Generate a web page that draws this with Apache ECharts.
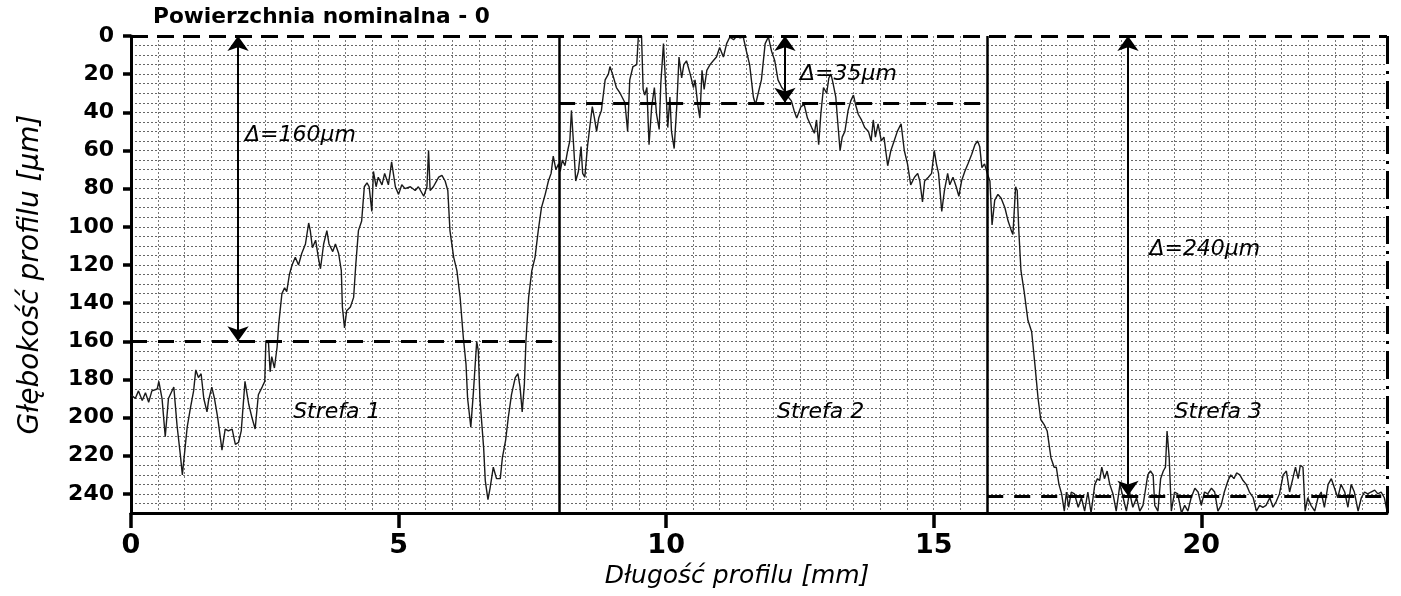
<!DOCTYPE html>
<html>
<head>
<meta charset="utf-8">
<script src="https://cdn.jsdelivr.net/npm/echarts@6/dist/echarts.min.js"></script>
<style>html,body{margin:0;padding:0;background:#fff}#c{width:1401px;height:596px}</style>
</head>
<body>
<div id="c"></div>
<script>
// ---- data ----
const distanceMm = [
0.00,0.08,0.14,0.21,0.27,0.33,0.39,0.49,0.52,0.58,0.64,0.70,0.80,0.86,0.92,0.96,1.01,1.05,1.11,1.17,1.21,1.26,1.31,1.36,1.42,1.45,1.51,1.56,1.62,1.70,1.76,1.82,1.89,1.95,2.01,2.06,2.13,2.20,2.26,2.32,2.38,2.45,2.50,2.52,2.57,2.60,2.63,2.68,2.73,2.76,2.82,2.87,2.91,2.96,3.01,3.07,3.13,3.19,3.26,3.32,3.35,3.39,3.45,3.50,3.54,3.60,3.66,3.70,3.77,3.82,3.88,3.93,3.95,3.99,4.03,4.10,4.16,4.20,4.25,4.31,4.36,4.41,4.45,4.50,4.53,4.58,4.62,4.69,4.74,4.81,4.87,4.94,5.00,5.06,5.12,5.22,5.31,5.37,5.47,5.53,5.56,5.59,5.65,5.75,5.81,5.87,5.92,
5.96,6.03,6.09,6.15,6.21,6.26,6.29,6.32,6.35,6.40,6.46,6.49,6.52,6.59,6.62,6.67,6.71,6.77,6.83,6.90,6.94,7.00,7.05,7.11,7.18,7.23,7.27,7.31,7.35,7.38,7.43,7.49,7.55,7.61,7.67,7.74,7.80,7.85,7.89,7.94,7.99,8.02,8.06,8.11,8.16,8.20,8.23,8.27,8.31,8.36,8.41,8.44,8.48,8.53,8.58,8.62,8.66,8.70,8.74,8.79,8.86,8.92,8.95,9.01,9.07,9.14,9.23,9.28,9.32,9.38,9.45,9.48,9.54,9.57,9.60,9.64,9.68,9.73,9.78,9.82,9.87,9.90,9.95,9.99,10.03,10.07,10.10,10.15,10.20,10.24,10.29,10.33,10.38,10.45,10.51,10.54,10.59,10.63,10.67,10.71,10.76,10.82,10.88,10.94,11.00,11.07,11.13,11.19,11.26,11.32,11.38,11.44,11.50,11.56,11.63,11.67,11.72,11.78,
11.85,11.91,11.97,12.03,12.09,12.16,12.22,12.28,12.34,12.39,12.44,12.47,12.52,12.58,12.64,12.72,12.77,12.81,12.85,12.89,12.94,13.00,13.04,13.08,13.12,13.17,13.20,13.25,13.29,13.34,13.40,13.45,13.50,13.54,13.59,13.65,13.71,13.78,13.83,13.87,13.91,13.96,14.02,14.07,14.14,14.20,14.26,14.32,14.39,14.45,14.51,14.57,14.64,14.70,14.74,14.79,14.83,14.90,14.96,15.01,15.05,15.09,15.15,15.20,15.26,15.30,15.36,15.42,15.47,15.52,15.58,15.64,15.71,15.77,15.82,15.86,15.90,15.95,16.00,16.05,16.09,16.14,16.20,16.26,16.33,16.39,16.45,16.48,16.53,16.56,16.59,16.63,16.69,16.76,16.83,16.89,16.95,17.00,17.07,17.12,17.19,17.25,17.29,17.34,17.39,17.44,17.48,17.52,17.57,
17.63,17.70,17.76,17.82,17.88,17.94,18.01,18.06,18.10,18.14,18.19,18.24,18.29,18.35,18.41,18.48,18.54,18.60,18.66,18.72,18.79,18.85,18.91,18.95,19.00,19.05,19.10,19.13,19.19,19.24,19.29,19.33,19.36,19.40,19.44,19.50,19.56,19.63,19.69,19.75,19.81,19.88,19.94,20.00,20.06,20.12,20.19,20.25,20.31,20.37,20.43,20.50,20.55,20.61,20.66,20.72,20.78,20.84,20.90,20.97,21.03,21.09,21.15,21.21,21.28,21.34,21.40,21.46,21.53,21.59,21.65,21.71,21.76,21.81,21.85,21.90,21.94,21.99,22.05,22.12,22.18,22.24,22.30,22.37,22.43,22.49,22.55,22.61,22.68,22.74,22.80,22.86,22.93,22.99,23.05,23.11,23.17,23.24,23.30,23.36,23.42,23.47
];
const depthUm = [
188,190,186,191,187,192,186,185,181,190,210,190,184,204,219,230,216,205,195,186,175,179,177,190,197,191,184,190,200,217,206,207,206,214,213,207,181,193,200,206,188,184,181,160,161,176,168,174,163,151,135,132,134,125,120,116,120,114,109,98,102,111,107,116,122,109,102,109,113,109,114,123,142,153,144,142,137,120,102,97,79,77,79,92,71,79,74,78,72,78,66,79,83,78,80,79,81,79,84,79,60,81,79,74,73,76,81,
102,116,123,137,158,172,190,191,205,186,160,165,190,216,233,243,237,226,232,232,221,212,200,188,179,177,184,197,183,160,137,123,116,102,90,83,76,72,63,70,67,71,65,68,60,55,39,57,76,71,58,72,74,58,46,37,43,50,43,39,23,20,16,21,27,30,35,50,23,16,15,0.5,0,28,31,27,57,37,27,41,49,25,4,25,48,32,50,59,36,11,22,15,13,20,27,23,36,43,18,28,18,15,13,11,6,11,4,0.5,2,0,1,0.5,8,15,32,36,30,23,
4,0.5,8,13,23,27,29,32,34,39,43,44,37,36,43,48,51,44,57,41,27,30,22,20,25,32,43,60,53,50,39,34,31,36,41,44,48,50,55,44,53,46,55,53,68,60,55,50,46,60,67,78,74,72,76,87,76,74,72,60,67,72,92,81,72,78,74,79,84,76,71,67,62,57,55,58,69,67,72,76,99,86,83,85,90,97,102,104,79,81,102,123,134,149,155,172,190,201,204,207,221,226,226,235,240,249,239,247,239,
240,247,242,249,239,250,235,232,233,226,232,228,235,240,249,235,242,249,239,247,242,249,246,239,230,228,230,246,249,232,228,226,207,221,249,239,240,250,246,249,242,237,239,246,239,240,237,239,249,246,239,233,230,232,229,230,233,235,239,242,249,246,247,246,242,247,244,240,230,228,239,232,226,232,225,226,249,242,246,249,242,239,247,235,232,237,242,235,239,247,235,239,249,242,239,240,239,238,240,239,242,249
];
const xTickValues = [0, 5, 10, 15, 20];
const yTickValues = [0, 20, 40, 60, 80, 100, 120, 140, 160, 180, 200, 220, 240];
const xMax = 23.47;
const yMax = 250;
const zoneBounds = [0, 8, 16, xMax];
const zoneLevels = [160, 35, 241];
const zoneArrowX = [2.0, 12.22, 18.63];
const zoneNames = ['Strefa 1', 'Strefa 2', 'Strefa 3'];
const deltaTexts = ['Δ=160µm', 'Δ=35µm', 'Δ=240µm'];
const deltaTextPos = [[2.13, 52], [12.50, 20], [19.03, 112]];
const zoneTextPos = [[3.03, 197], [12.07, 197], [19.50, 197]];
const titleText = 'Powierzchnia nominalna - 0';

// ---- chart ----
const chart = echarts.init(document.getElementById('c'), null, {renderer: 'canvas'});
const profile = distanceMm.map((d, i) => [d, depthUm[i]]);
const FONT = 'DejaVu Sans';
const black = '#000';

const borderLines = [];
borderLines.push([{coord: [0, 0], lineStyle: {type: [17, 9], width: 3}}, {coord: [xMax, 0]}]);
borderLines.push([{coord: [xMax, 0], lineStyle: {type: [28, 7, 3, 7], width: 3}}, {coord: [xMax, yMax]}]);
for (let i = 1; i < zoneBounds.length - 1; i++) {
  borderLines.push([{coord: [zoneBounds[i], 0], lineStyle: {type: 'solid', width: 2.5}}, {coord: [zoneBounds[i], yMax]}]);
}
for (let i = 0; i < zoneLevels.length; i++) {
  borderLines.push([{coord: [zoneBounds[i], zoneLevels[i]], lineStyle: {type: [16, 11], width: 3}}, {coord: [zoneBounds[i + 1], zoneLevels[i]]}]);
}
const arrowLines = zoneArrowX.map((x, i) => [{coord: [x, 0]}, {coord: [x, zoneLevels[i]]}]);

const annot = [];
deltaTexts.forEach((t, i) => annot.push({value: deltaTextPos[i], name: t}));
zoneNames.forEach((t, i) => annot.push({value: zoneTextPos[i], name: t}));

chart.setOption({
  animation: false,
  backgroundColor: '#fff',
  title: {
    text: titleText, left: 153, top: 6, padding: 0,
    textStyle: {fontFamily: FONT, fontWeight: 'bold', fontSize: 21.7, color: black}
  },
  grid: {left: 131, right: 14, top: 36, bottom: 83, containLabel: false},
  xAxis: [{
    type: 'value', min: 0, max: xMax, interval: 5, position: 'bottom',
    name: 'Długość profilu [mm]', nameLocation: 'middle', nameGap: 50,
    nameTextStyle: {fontFamily: FONT, fontStyle: 'italic', fontSize: 25, color: black, padding: [0, 44, 0, 0]},
    axisLine: {show: true, onZero: false, lineStyle: {color: black, width: 3}},
    axisTick: {show: true, customValues: xTickValues, length: 15, lineStyle: {color: black, width: 3.5}},
    axisLabel: {customValues: xTickValues, margin: 19, fontFamily: FONT, fontWeight: 'bold', fontSize: 27, color: black},
    splitLine: {show: false}
  }, {
    type: 'value', min: 0, max: xMax, interval: 0.5, position: 'top',
    axisLine: {show: false}, axisTick: {show: false}, axisLabel: {show: false},
    splitLine: {show: true, showMinLine: false, showMaxLine: false, lineStyle: {color: '#777', width: 1, type: [2, 2]}}
  }],
  yAxis: [{
    type: 'value', inverse: true, min: 0, max: yMax, position: 'left',
    name: 'Głębokość profilu [µm]', nameLocation: 'middle', nameGap: 86,
    nameTextStyle: {fontFamily: FONT, fontStyle: 'italic', fontSize: 28, color: black},
    axisLine: {show: true, onZero: false, lineStyle: {color: black, width: 3}},
    axisTick: {show: true, customValues: yTickValues, length: 8, lineStyle: {color: black, width: 3.5}},
    axisLabel: {customValues: yTickValues, margin: 17, fontFamily: FONT, fontWeight: 'bold', fontSize: 22, color: black},
    splitLine: {show: false}
  }, {
    type: 'value', inverse: true, min: 0, max: yMax, interval: 5, position: 'right',
    axisLine: {show: false}, axisTick: {show: false}, axisLabel: {show: false},
    splitLine: {show: true, showMinLine: false, showMaxLine: false, lineStyle: {color: '#666', width: 1, type: [2, 2]}}
  }],
  series: [{
    type: 'line', name: 'profil', data: profile, xAxisIndex: 0, yAxisIndex: 0,
    showSymbol: false, symbol: 'none', clip: true, z: 4,
    lineStyle: {color: '#1a1a1a', width: 1.4}
  }, {
    type: 'line', data: [], xAxisIndex: 0, yAxisIndex: 0, clip: false, z: 5,
    markLine: {silent: true, symbol: ['none', 'none'], label: {show: false},
      lineStyle: {color: black}, emphasis: {disabled: true}, data: borderLines}
  }, {
    type: 'line', data: [], xAxisIndex: 0, yAxisIndex: 0, clip: false, z: 6,
    markLine: {silent: true, symbol: ['arrow', 'arrow'], symbolSize: [16, 15], label: {show: false},
      lineStyle: {color: black, width: 2, type: 'solid'}, itemStyle: {color: black}, emphasis: {disabled: true}, data: arrowLines}
  }, {
    type: 'scatter', data: annot, symbolSize: 0, xAxisIndex: 0, yAxisIndex: 0, silent: true, z: 7,
    itemStyle: {opacity: 1},
    label: {show: true, position: 'right', distance: 0, formatter: p => p.name, opacity: 1,
      fontFamily: FONT, fontStyle: 'italic', fontSize: 22, color: '#000'}
  }]
});
</script>
</body>
</html>
